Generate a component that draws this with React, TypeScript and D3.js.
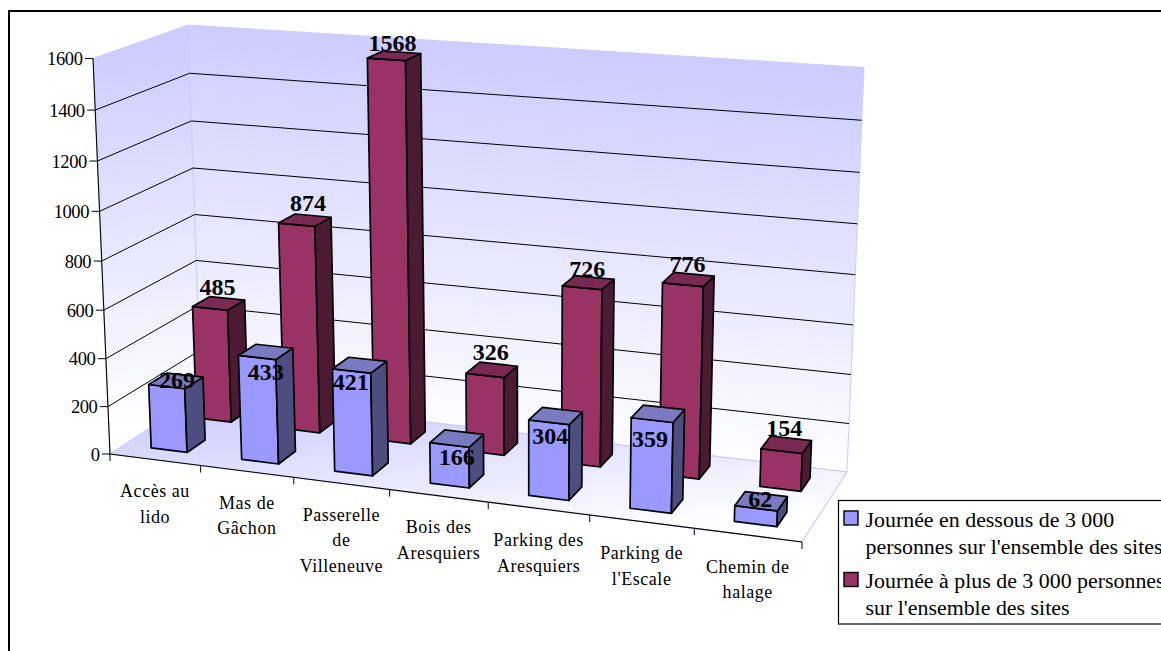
import React from "react";
import * as d3 from "d3";

const categories = ["Accès au lido", "Mas de Gâchon", "Passerelle de Villeneuve", "Bois des Aresquiers", "Parking des Aresquiers", "Parking de l'Escale", "Chemin de halage"];
const categoryLines = [["Accès au", "lido"], ["Mas de", "Gâchon"], ["Passerelle", "de", "Villeneuve"], ["Bois des", "Aresquiers"], ["Parking des", "Aresquiers"], ["Parking de", "l'Escale"], ["Chemin de", "halage"]];
const seriesBelow = [269, 433, 421, 166, 304, 359, 62];
const seriesAbove = [485, 874, 1568, 326, 726, 776, 154];
const yTicks = [0, 200, 400, 600, 800, 1000, 1200, 1400, 1600];
const legendBelow = ["Journée en dessous de 3 000", "personnes sur l'ensemble des sites"];
const legendAbove = ["Journée à plus de 3 000 personnes", "sur l'ensemble des sites"];

// label nudges relative to the centre of each bar's top face
const nudgeBelow: [number, number][] = [[1, 7], [0, 28], [-9, 25], [0, 27], [-5.5, 28], [-8, 33], [-1, 6]];
const nudgeAbove: [number, number][] = [[-1.3, -8], [3, -9], [-1.6, -5], [-1, -10], [-1, -6], [-1, -7], [-2, -9]];

type P = [number, number];
// Screen corners of the 3D box: floor and ceiling planes
const floorCorners: P[] = [[110, 454], [802, 542], [201, 395], [847, 472]];
const topCorners: P[] = [[93, 58.5], [818, 109], [188, 25], [864, 67.5]];
const depthBias = 1.05; // foreshortening along the value axis
const widthBiasFloor = 1.025; // foreshortening along the category axis at the floor
const widthBiasTop = 1.0; // and at the ceiling

function solve(M: number[][], r: number[]): number[] {
  const n = r.length;
  const a = M.map((row, i) => [...row, r[i]]);
  for (let i = 0; i < n; i++) {
    let p = i;
    for (let k = i + 1; k < n; k++) if (Math.abs(a[k][i]) > Math.abs(a[p][i])) p = k;
    [a[i], a[p]] = [a[p], a[i]];
    for (let k = 0; k < n; k++) {
      if (k === i) continue;
      const f = a[k][i] / a[i][i];
      for (let j = i; j <= n; j++) a[k][j] -= f * a[i][j];
    }
  }
  return a.map((row, i) => row[n] / row[i]);
}

function homography(c: P[]) {
  const uv: P[] = [[0, 0], [1, 0], [0, 1], [1, 1]];
  const M: number[][] = [];
  const R: number[] = [];
  uv.forEach(([u, v], i) => {
    const [x, y] = c[i];
    M.push([u, v, 1, 0, 0, 0, -x * u, -x * v]); R.push(x);
    M.push([0, 0, 0, u, v, 1, -y * u, -y * v]); R.push(y);
  });
  const [A, B, D, E, F, G, a, b] = solve(M, R);
  return (u: number, v: number): P => {
    const w = a * u + b * v + 1;
    return [(A * u + B * v + D) / w, (E * u + F * v + G) / w];
  };
}
const floorH = homography(floorCorners);
const topH = homography(topCorners);
function proj(uRaw: number, v: number, h: number): P {
  const s = h <= 0 ? 0 : h / (h + depthBias * (1 - h));
  const bias = widthBiasFloor + (widthBiasTop - widthBiasFloor) * h;
  const u = uRaw <= 0 ? 0 : uRaw / (uRaw + bias * (1 - uRaw));
  const f = floorH(u, v);
  const t = topH(u, v);
  return [f[0] + (t[0] - f[0]) * s, f[1] + (t[1] - f[1]) * s];
}

const uBand = d3.scaleBand<string>().domain(categories).range([0, 1]).paddingInner(0.6).paddingOuter(0.3);
const uEdge = d3.scaleLinear().domain([0, categories.length]).range([0, 1]);
const vBand = d3.scaleBand<string>().domain(["below", "above"]).range([0, 1]).paddingInner(0.6).paddingOuter(0.3);
const hScale = d3.scaleLinear().domain([0, 1600]).range([0, 1]);
const poly = d3.line<P>().curve(d3.curveLinearClosed);
const seg = d3.line<P>();

const SERIF = "'Liberation Serif', 'Times New Roman', serif";

function Bar({ cat, row, value, front, side, top }: any) {
  const u0 = uBand(cat)!;
  const u1 = u0 + uBand.bandwidth();
  const v0 = vBand(row)!;
  const v1 = v0 + vBand.bandwidth();
  const h = hScale(value);
  const faces: [string, P[]][] = [
    [front, [proj(u0, v0, 0), proj(u1, v0, 0), proj(u1, v0, h), proj(u0, v0, h)]],
    [side, [proj(u1, v0, 0), proj(u1, v1, 0), proj(u1, v1, h), proj(u1, v0, h)]],
    [top, [proj(u0, v0, h), proj(u1, v0, h), proj(u1, v1, h), proj(u0, v1, h)]],
  ];
  return (
    <g>
      {faces.map(([fill, pts], i) => (
        <path key={i} d={poly(pts)!} fill={fill} stroke="#000" strokeWidth={1.7} strokeLinejoin="round" />
      ))}
    </g>
  );
}

function valueLabel(cat: string, row: string, value: number, nudge: P) {
  const um = uBand(cat)! + uBand.bandwidth() / 2;
  const vm = vBand(row)! + vBand.bandwidth() / 2;
  const [x, y] = proj(um, vm, hScale(value));
  return (
    <text key={row + cat} x={x + nudge[0]} y={y + nudge[1]} textAnchor="middle" fontFamily={SERIF} fontWeight="bold" fontSize={24} fill="#000">
      {value}
    </text>
  );
}

export default function App() {
  const wall = "#ccccff";
  const gridVals = yTicks.filter((t) => t > 0 && t < 1600);
  return (
    <svg width={1161} height={651} style={{ position: "absolute", left: 0, top: 0, background: "#fff" }}>
      <defs>
        <linearGradient id="back" gradientUnits="userSpaceOnUse" x1={500} y1={45} x2={462} y2={445}>
          <stop offset="0" stopColor="#ccccff" />
          <stop offset="1" stopColor="#ffffff" />
        </linearGradient>
        <linearGradient id="left" gradientUnits="userSpaceOnUse" x1={140} y1={42} x2={168} y2={425}>
          <stop offset="0" stopColor="#ccccff" />
          <stop offset="1" stopColor="#ffffff" />
        </linearGradient>
        <linearGradient id="floor" gradientUnits="userSpaceOnUse" x1={425} y1={382} x2={443} y2={555}>
          <stop offset="0" stopColor="#ccccff" />
          <stop offset="1" stopColor="#ffffff" />
        </linearGradient>
      </defs>
      <rect x={9} y={11} width={1300} height={800} fill="#fff" stroke="#000" strokeWidth={2} />

      <path d={poly([proj(0, 0, 0), proj(0, 1, 0), proj(0, 1, 1), proj(0, 0, 1)])!} fill="url(#left)" stroke={wall} strokeWidth={1} />
      <path d={poly([proj(0, 1, 0), proj(1, 1, 0), proj(1, 1, 1), proj(0, 1, 1)])!} fill="url(#back)" stroke={wall} strokeWidth={1} />
      <path d={poly([proj(0, 0, 0), proj(1, 0, 0), proj(1, 1, 0), proj(0, 1, 0)])!} fill="url(#floor)" stroke={wall} strokeWidth={1.2} />

      {gridVals.map((t) => (
        <path key={t} d={seg([proj(0, 0, hScale(t)), proj(0, 1, hScale(t)), proj(1, 1, hScale(t))])!} fill="none" stroke="#000" strokeWidth={1} />
      ))}

      <path d={seg([proj(0, 0, 1), proj(0, 0, 0), proj(1, 0, 0)])!} fill="none" stroke="#000" strokeWidth={1.1} />
      {yTicks.map((t) => {
        const [x, y] = proj(0, 0, hScale(t));
        return (
          <g key={t}>
            <line x1={x - 8} x2={x} y1={y} y2={y} stroke="#000" strokeWidth={1} />
            <text x={x - 10.5} y={y + 6.5} textAnchor="end" fontFamily={SERIF} fontSize={18.5} letterSpacing={-0.4} fill="#000">{t}</text>
          </g>
        );
      })}
      {d3.range(categories.length + 1).map((i) => {
        const [x, y] = proj(uEdge(i), 0, 0);
        return <line key={i} x1={x} x2={x} y1={y} y2={y + 7} stroke="#000" strokeWidth={1} />;
      })}
      {categoryLines.map((lines, i) => {
        const [x, y] = proj(uEdge(i + 0.5), 0, 0);
        return (
          <g key={i}>
            {lines.map((l, j) => (
              <text key={j} x={x} y={y + 37.5 + j * 25.5} textAnchor="middle" fontFamily={SERIF} fontSize={18} letterSpacing={0.55} fill="#000">{l}</text>
            ))}
          </g>
        );
      })}

      {categories.map((c, i) => (
        <Bar key={c} cat={c} row="above" value={seriesAbove[i]} front="#993366" side="#4d1a33" top="#7a2952" />
      ))}
      {categories.map((c, i) => (
        <Bar key={c} cat={c} row="below" value={seriesBelow[i]} front="#9999ff" side="#4d4d80" top="#7a7ac0" />
      ))}
      {categories.map((c, i) => valueLabel(c, "above", seriesAbove[i], nudgeAbove[i]))}
      {categories.map((c, i) => valueLabel(c, "below", seriesBelow[i], nudgeBelow[i]))}

      <rect x={838.5} y={500.5} width={400} height={123.5} fill="#fff" stroke="#000" strokeWidth={1.2} />
      <rect x={844} y={511} width={14} height={14} fill="#9999ff" stroke="#000" strokeWidth={1.4} />
      <rect x={844} y={572.5} width={14} height={14} fill="#993366" stroke="#000" strokeWidth={1.4} />
      {[...legendBelow, ...legendAbove].map((l, i) => (
        <text key={i} x={865.5} y={[526.7, 554, 588.3, 615][i]} fontFamily={SERIF} fontSize={21.9} fill="#000">{l}</text>
      ))}
    </svg>
  );
}
